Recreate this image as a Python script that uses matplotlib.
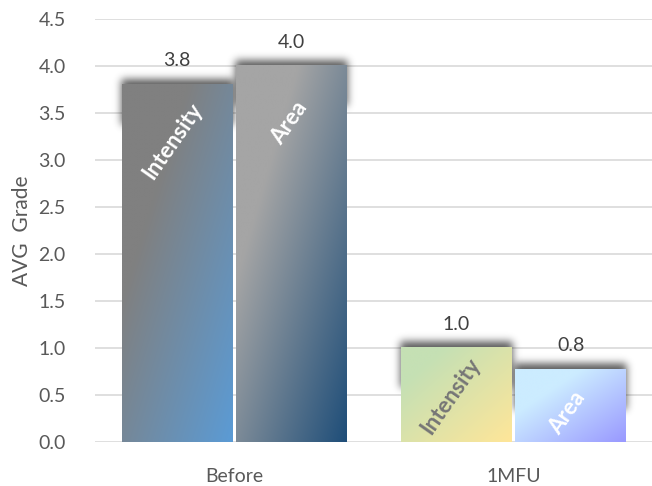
import numpy as np
import matplotlib
matplotlib.use("Agg")
import matplotlib.pyplot as plt
from matplotlib.colors import to_rgb
from math import erf

plt.rcParams['font.family'] = ['Lato', 'DejaVu Sans']

# Data
categories = ["Before", "1MFU"]
series_names = ["Intensity", "Area"]
intensity_values = [3.8, 1.0]
area_values = [4.0, 0.77]
y_ticks = [0.0, 0.5, 1.0, 1.5, 2.0, 2.5, 3.0, 3.5, 4.0, 4.5]
y_label = "AVG  Grade"

# Gradient fills (start colour top-left, end colour bottom-right, hold fraction)
fills = {
    ("Before", "Intensity"): ("#808080", "#5B9BD5", 0.3),
    ("Before", "Area"): ("#A5A5A5", "#1F4E79", 0.28),
    ("1MFU", "Intensity"): ("#C5E0B4", "#FFE699", 0.2),
    ("1MFU", "Area"): ("#CCECFF", "#9999FF", 0.3),
}
label_colors = {
    ("Before", "Intensity"): "white",
    ("Before", "Area"): "white",
    ("1MFU", "Intensity"): "#767676",
    ("1MFU", "Area"): "white",
}
# label offsets from bar top (pixels)
label_offsets = {
    ("Before", "Intensity"): (-5, -56),
    ("Before", "Area"): (-2, -57),
    ("1MFU", "Intensity"): (-6, -48),
    ("1MFU", "Area"): (-3, -43),
}

W, H, DPI = 652, 486, 100
fig = plt.figure(figsize=(W / DPI, H / DPI), dpi=DPI)
ax_left, ax_right, ax_bottom, ax_top = 95, 653, 442, 19
ax = fig.add_axes([ax_left / W, (H - ax_bottom) / H,
                   (ax_right - ax_left) / W, (ax_bottom - ax_top) / H])

xlim = (-0.5, 1.5)
ylim = (0, 4.5)
ax.set_xlim(*xlim)
ax.set_ylim(*ylim)

px_x = (xlim[1] - xlim[0]) / (ax_right - ax_left)
px_y = (ylim[1] - ylim[0]) / (ax_bottom - ax_top)

bar_width = 0.396
offsets = [-0.205, 0.205]


def gradient_image(c0, c1, hold, nx=60, ny=200):
    u = np.linspace(0, 1, nx)[None, :]
    v = np.linspace(0, 1, ny)[:, None]  # 0 at top
    t = (u + v) / 2.0
    t = np.clip((t - hold) / (1 - hold), 0, 1)
    a = np.array(to_rgb(c0))
    b = np.array(to_rgb(c1))
    return a[None, None, :] * (1 - t[..., None]) + b[None, None, :] * t[..., None]


verf = np.vectorize(erf)


def box_blur_profile(coord, lo, hi, sigma):
    s = sigma * np.sqrt(2)
    return 0.5 * (verf((coord - lo) / s) - verf((coord - hi) / s))


def draw_shadow(x0, x1, top):
    sig_x = 4 * px_x
    sig_y = 4 * px_y
    sx0, sx1 = x0 - 1 * px_x, x1 + 1 * px_x
    sy0, sy1 = top - 40 * px_y, top + 6 * px_y
    ex0, ex1 = sx0 - 4 * sig_x, sx1 + 4 * sig_x
    ey0, ey1 = max(0, sy0 - 4 * sig_y), sy1 + 4 * sig_y
    xs = np.linspace(ex0, ex1, 160)
    ys = np.linspace(ey1, ey0, 120)
    ax_ = box_blur_profile(xs, sx0, sx1, sig_x)[None, :]
    ay_ = box_blur_profile(ys, sy0, sy1, sig_y)[:, None]
    alpha = 0.65 * ax_ * ay_
    img = np.zeros((len(ys), len(xs), 4))
    img[..., 3] = alpha
    ax.imshow(img, extent=(ex0, ex1, ey0, ey1), aspect='auto',
              interpolation='bilinear', zorder=2)


series_values = {"Intensity": intensity_values, "Area": area_values}

for ci, cat in enumerate(categories):
    for si, name in enumerate(series_names):
        val = series_values[name][ci]
        xc = ci + offsets[si]
        x0, x1 = xc - bar_width / 2, xc + bar_width / 2
        draw_shadow(x0, x1, val)
        c0, c1, hold = fills[(cat, name)]
        img = gradient_image(c0, c1, hold)
        ax.imshow(img, extent=(x0, x1, 0, val), aspect='auto',
                  interpolation='bilinear', zorder=3)
        # value label above bar
        ax.annotate(f"{val:.1f}", xy=(xc, val), xytext=(0, 24),
                    textcoords='offset pixels', ha='center', va='center',
                    fontsize=14, color='#404040', zorder=5)
        # rotated series name inside bar
        dx, dy = label_offsets[(cat, name)]
        ax.annotate(name, xy=(xc, val), xytext=(dx, dy),
                    textcoords='offset pixels', ha='center', va='center',
                    rotation=55, rotation_mode='anchor', fontsize=16,
                    fontweight='bold', color=label_colors[(cat, name)],
                    zorder=5)

ax.set_xlim(*xlim)
ax.set_ylim(*ylim)

ax.set_yticks(y_ticks)
ax.set_yticklabels([f"{t:.1f}" for t in y_ticks])
ax.set_xticks(range(len(categories)))
ax.set_xticklabels(categories)
ax.tick_params(axis='both', length=0, labelsize=14, colors='#595959')
ax.tick_params(axis='y', pad=21)
ax.tick_params(axis='x', pad=19)
ax.yaxis.grid(True, color='#D9D9D9', linewidth=1.2, zorder=0)
ax.set_axisbelow(True)
for sp in ax.spines.values():
    sp.set_visible(False)

ax.set_ylabel(y_label, fontsize=15, color='#595959', labelpad=5)

fig.savefig("out.png", dpi=DPI)
